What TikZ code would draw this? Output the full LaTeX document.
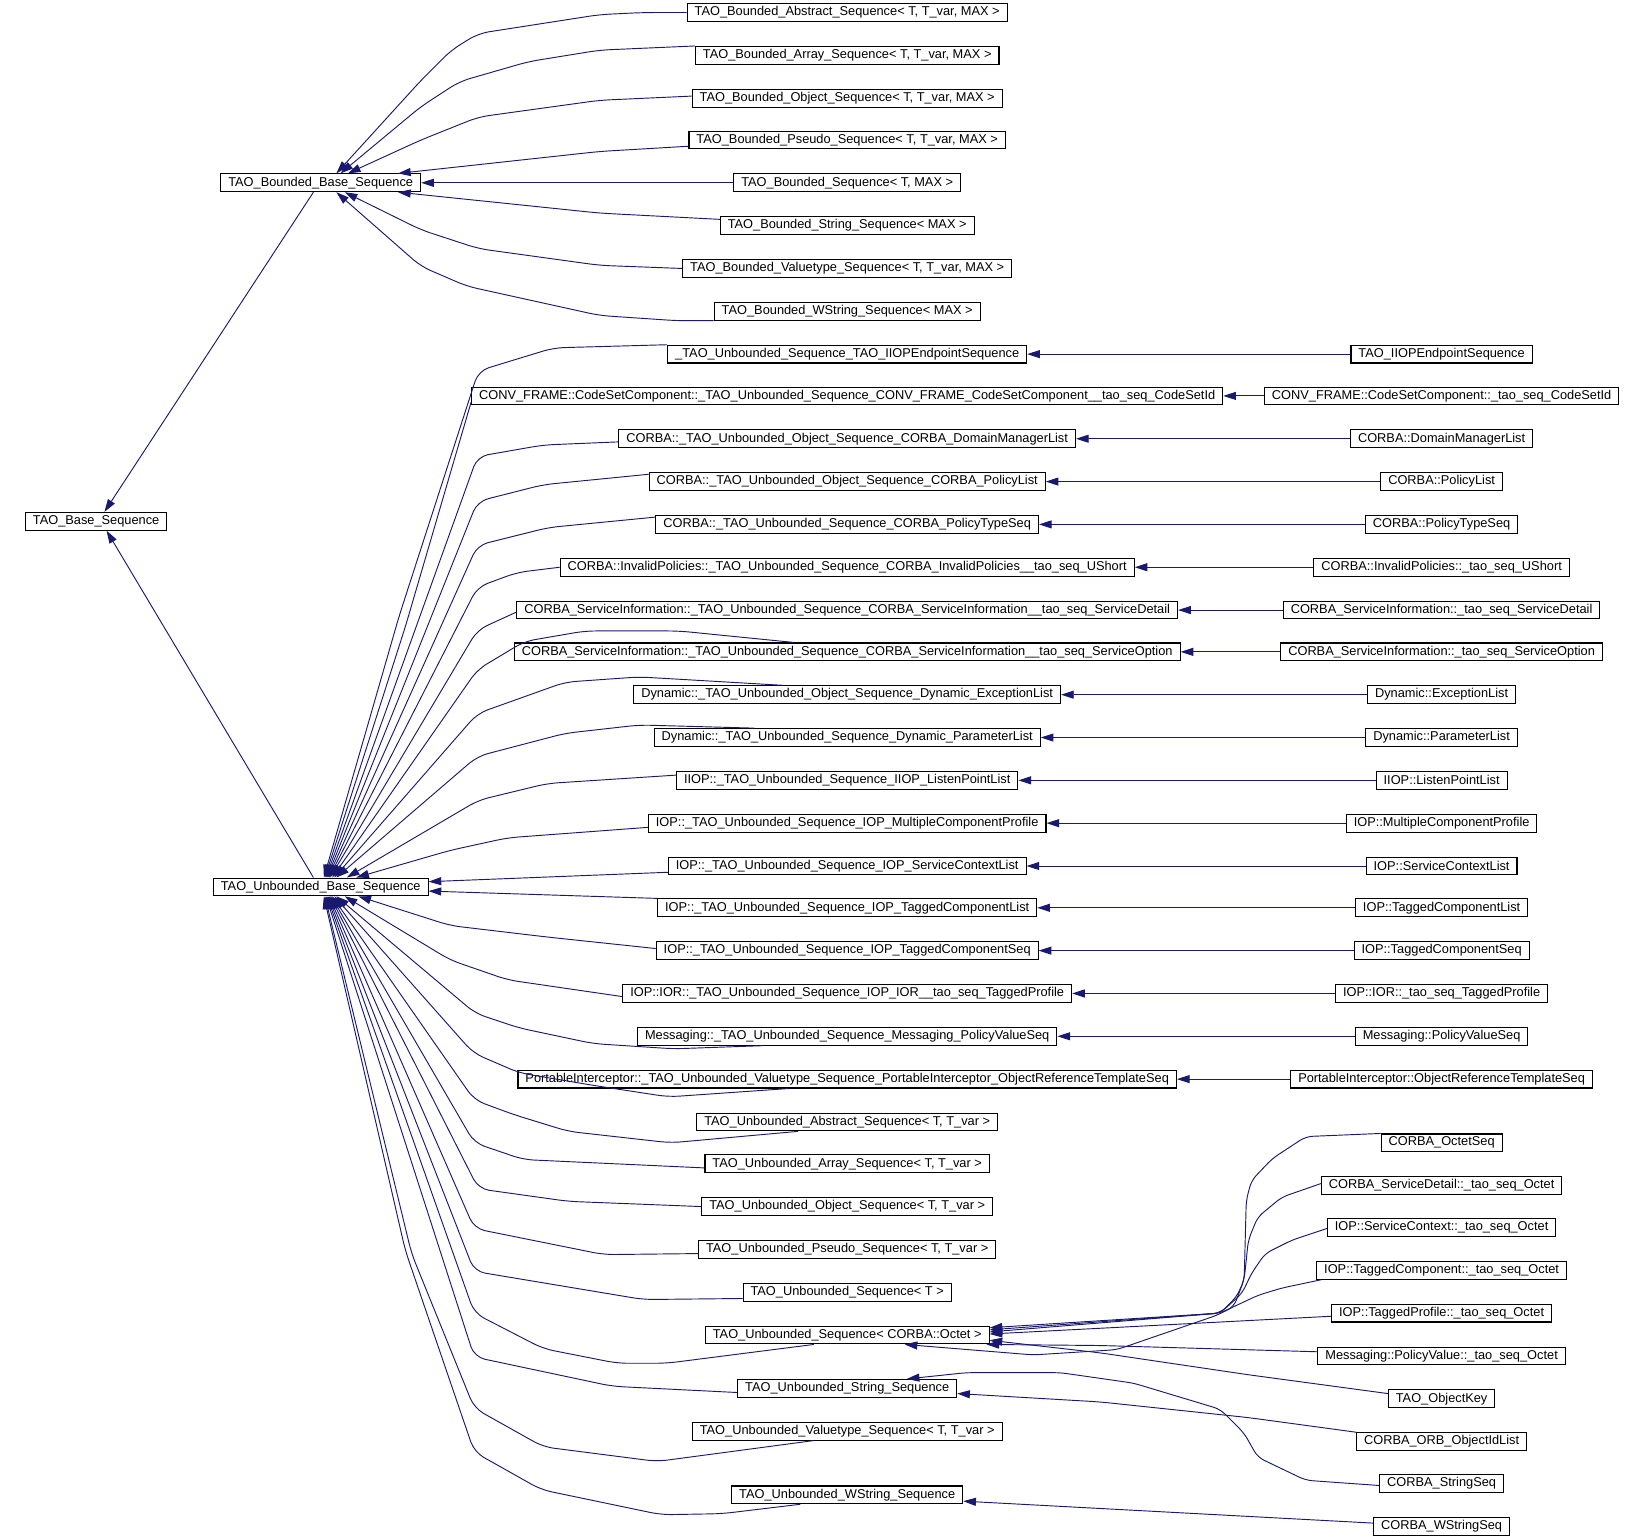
\documentclass[tikz,border=0pt]{standalone}
\usepackage{fontspec}
\setmainfont{Liberation Sans}
\usetikzlibrary{arrows.meta,calc}
\definecolor{edgeblue}{RGB}{25,25,112}
\tikzset{
  cls/.style={draw=black, line width=0.8pt, fill=white, font=\fontsize{9.6}{11}\selectfont,
    inner xsep=5.6pt, inner ysep=0pt, minimum height=13.3pt},
  derive/.style={draw=edgeblue, line width=0.7pt, rounded corners=8pt,
    {Triangle[length=9.5pt,width=6pt]}-}
}
\begin{document}
\begin{tikzpicture}[x=0.7835pt,y=0.7835pt,yscale=-1,xscale=1]
\useasboundingbox (0,0) rectangle (1568,1473);
\fill[white] (0,0) rectangle (1568,1473);

% Bases
\node[cls] (base) at (92,499) {TAO\_Base\_Sequence};
\node[cls] (bbase) at (307,175) {TAO\_Bounded\_Base\_Sequence};
\node[cls] (ubase) at (307,849) {TAO\_Unbounded\_Base\_Sequence};

% Bounded children
\node[cls] (babstract) at (811,12) {TAO\_Bounded\_Abstract\_Sequence< T, T\_var, MAX >};
\node[cls] (barray) at (811,53) {TAO\_Bounded\_Array\_Sequence< T, T\_var, MAX >};
\node[cls] (bobject) at (811,94) {TAO\_Bounded\_Object\_Sequence< T, T\_var, MAX >};
\node[cls] (bpseudo) at (811,134) {TAO\_Bounded\_Pseudo\_Sequence< T, T\_var, MAX >};
\node[cls] (bseq) at (811,175) {TAO\_Bounded\_Sequence< T, MAX >};
\node[cls] (bstring) at (811,216) {TAO\_Bounded\_String\_Sequence< MAX >};
\node[cls] (bvaluetype) at (811,257) {TAO\_Bounded\_Valuetype\_Sequence< T, T\_var, MAX >};
\node[cls] (bwstring) at (811,298) {TAO\_Bounded\_WString\_Sequence< MAX >};

% Unbounded children
\node[cls] (iiop) at (811,339) {\_TAO\_Unbounded\_Sequence\_TAO\_IIOPEndpointSequence};
\node[cls] (conv) at (811,379) {CONV\_FRAME::CodeSetComponent::\_TAO\_Unbounded\_Sequence\_CONV\_FRAME\_CodeSetComponent\_\_tao\_seq\_CodeSetId};
\node[cls] (domain) at (811,420) {CORBA::\_TAO\_Unbounded\_Object\_Sequence\_CORBA\_DomainManagerList};
\node[cls] (policylist) at (811,461) {CORBA::\_TAO\_Unbounded\_Object\_Sequence\_CORBA\_PolicyList};
\node[cls] (policytype) at (811,502) {CORBA::\_TAO\_Unbounded\_Sequence\_CORBA\_PolicyTypeSeq};
\node[cls] (invalid) at (811,543) {CORBA::InvalidPolicies::\_TAO\_Unbounded\_Sequence\_CORBA\_InvalidPolicies\_\_tao\_seq\_UShort};
\node[cls] (svcdetail) at (811,584) {CORBA\_ServiceInformation::\_TAO\_Unbounded\_Sequence\_CORBA\_ServiceInformation\_\_tao\_seq\_ServiceDetail};
\node[cls] (svcoption) at (811,624) {CORBA\_ServiceInformation::\_TAO\_Unbounded\_Sequence\_CORBA\_ServiceInformation\_\_tao\_seq\_ServiceOption};
\node[cls] (exception) at (811,665) {Dynamic::\_TAO\_Unbounded\_Object\_Sequence\_Dynamic\_ExceptionList};
\node[cls] (parameter) at (811,706) {Dynamic::\_TAO\_Unbounded\_Sequence\_Dynamic\_ParameterList};
\node[cls] (listen) at (811,747) {IIOP::\_TAO\_Unbounded\_Sequence\_IIOP\_ListenPointList};
\node[cls] (multiple) at (811,788) {IOP::\_TAO\_Unbounded\_Sequence\_IOP\_MultipleComponentProfile};
\node[cls] (svcctx) at (811,829) {IOP::\_TAO\_Unbounded\_Sequence\_IOP\_ServiceContextList};
\node[cls] (tcl) at (811,869) {IOP::\_TAO\_Unbounded\_Sequence\_IOP\_TaggedComponentList};
\node[cls] (tcs) at (811,910) {IOP::\_TAO\_Unbounded\_Sequence\_IOP\_TaggedComponentSeq};
\node[cls] (tprofile) at (811,951) {IOP::IOR::\_TAO\_Unbounded\_Sequence\_IOP\_IOR\_\_tao\_seq\_TaggedProfile};
\node[cls] (messaging) at (811,992) {Messaging::\_TAO\_Unbounded\_Sequence\_Messaging\_PolicyValueSeq};
\node[cls] (portable) at (811,1033) {PortableInterceptor::\_TAO\_Unbounded\_Valuetype\_Sequence\_PortableInterceptor\_ObjectReferenceTemplateSeq};
\node[cls] (tabstract) at (811,1074) {TAO\_Unbounded\_Abstract\_Sequence< T, T\_var >};
\node[cls] (tarray) at (811,1114) {TAO\_Unbounded\_Array\_Sequence< T, T\_var >};
\node[cls] (tobject) at (811,1155) {TAO\_Unbounded\_Object\_Sequence< T, T\_var >};
\node[cls] (tpseudo) at (811,1196) {TAO\_Unbounded\_Pseudo\_Sequence< T, T\_var >};
\node[cls] (tseq) at (811,1237) {TAO\_Unbounded\_Sequence< T >};
\node[cls] (toctet) at (811,1278) {TAO\_Unbounded\_Sequence< CORBA::Octet >};
\node[cls] (tstring) at (811,1329) {TAO\_Unbounded\_String\_Sequence};
\node[cls] (tvaluetype) at (811,1370) {TAO\_Unbounded\_Valuetype\_Sequence< T, T\_var >};
\node[cls] (twstring) at (811,1431) {TAO\_Unbounded\_WString\_Sequence};

% Leaf classes
\node[cls] (iiopseq) at (1380,339) {TAO\_IIOPEndpointSequence};
\node[cls] (codesetid) at (1380,379) {CONV\_FRAME::CodeSetComponent::\_tao\_seq\_CodeSetId};
\node[cls] (domainlist) at (1380,420) {CORBA::DomainManagerList};
\node[cls] (policies) at (1380,461) {CORBA::PolicyList};
\node[cls] (policytypes) at (1380,502) {CORBA::PolicyTypeSeq};
\node[cls] (ushort) at (1380,543) {CORBA::InvalidPolicies::\_tao\_seq\_UShort};
\node[cls] (sdetail) at (1380,584) {CORBA\_ServiceInformation::\_tao\_seq\_ServiceDetail};
\node[cls] (soption) at (1380,624) {CORBA\_ServiceInformation::\_tao\_seq\_ServiceOption};
\node[cls] (exceptions) at (1380,665) {Dynamic::ExceptionList};
\node[cls] (parameters) at (1380,706) {Dynamic::ParameterList};
\node[cls] (listenpoints) at (1380,747) {IIOP::ListenPointList};
\node[cls] (profiles) at (1380,788) {IOP::MultipleComponentProfile};
\node[cls] (contexts) at (1380,829) {IOP::ServiceContextList};
\node[cls] (componentlist) at (1380,869) {IOP::TaggedComponentList};
\node[cls] (componentseq) at (1380,910) {IOP::TaggedComponentSeq};
\node[cls] (taggedprofile) at (1380,951) {IOP::IOR::\_tao\_seq\_TaggedProfile};
\node[cls] (policyvalues) at (1380,992) {Messaging::PolicyValueSeq};
\node[cls] (templates) at (1380,1033) {PortableInterceptor::ObjectReferenceTemplateSeq};
\node[cls] (octetseq) at (1380,1094) {CORBA\_OctetSeq};
\node[cls] (sdoctet) at (1380,1135) {CORBA\_ServiceDetail::\_tao\_seq\_Octet};
\node[cls] (scoctet) at (1380,1175) {IOP::ServiceContext::\_tao\_seq\_Octet};
\node[cls] (tcoctet) at (1380,1216) {IOP::TaggedComponent::\_tao\_seq\_Octet};
\node[cls] (tpoctet) at (1380,1257) {IOP::TaggedProfile::\_tao\_seq\_Octet};
\node[cls] (pvoctet) at (1380,1298) {Messaging::PolicyValue::\_tao\_seq\_Octet};
\node[cls] (objkey) at (1380,1339) {TAO\_ObjectKey};
\node[cls] (orbids) at (1380,1380) {CORBA\_ORB\_ObjectIdList};
\node[cls] (stringseq) at (1380,1420) {CORBA\_StringSeq};
\node[cls] (wstringseq) at (1380,1461) {CORBA\_WStringSeq};

% Edges to TAO_Base_Sequence
\draw[derive] ($(base.north)+(8,0)$) -- ($(bbase.south)+(-7,0)$);
\draw[derive] ($(base.south)+(10,0)$) -- ($(ubase.north)+(-7,0)$);

% Edges to TAO_Bounded_Base_Sequence
\draw[derive] ($(bbase.north)+(15,0)$) -- (403,77) -- (432,48) -- (458,32) -- (574,14) -- (616,12) -- (babstract.west);
\draw[derive] ($(bbase.north)+(19,0)$) -- (403,102) -- (440,78) -- (506,59) -- (574,48) -- (barray.north west);
\draw[derive] ($(bbase.north)+(26,0)$) -- (403,134) -- (458,112) -- (574,96) -- ($(bobject.west)+(0,-2)$);
\draw[derive] ($(bbase.north)+(74,0)$) -- (574,145) -- ($(bpseudo.west)+(0,6)$);
\draw[derive] (bbase.east) -- (bseq.west);
\draw[derive] ($(bbase.south)+(74,0)$) -- (574,204) -- ($(bstring.west)+(0,-6)$);
\draw[derive] ($(bbase.south)+(23,0)$) -- (403,220) -- (458,238) -- (574,254) -- (bvaluetype.west);
\draw[derive] ($(bbase.south)+(15,0)$) -- (403,255) -- (447,274) -- (574,302) -- (648,307) -- (bwstring.south west);

% Edges to TAO_Unbounded_Base_Sequence, upper side
\draw[derive] ($(ubase.north)+(3,0)$) -- (382,590) -- (458,355) -- (530,333) -- (iiop.north west);
\draw[derive] ($(ubase.north)+(4,0)$) -- (388,600) -- ($(conv.south west)+(0,-3)$);
\draw[derive] ($(ubase.north)+(5,0)$) -- (457,437) -- (520,426) -- ($(domain.west)+(0,3)$);
\draw[derive] ($(ubase.north)+(6,0)$) -- (457,480) -- (520,464) -- ($(policylist.west)+(0,-7)$);
\draw[derive] ($(ubase.north)+(7,0)$) -- (457,522) -- (525,505) -- ($(policytype.west)+(0,-7)$);
\draw[derive] ($(ubase.north)+(8,0)$) -- (457,562) -- (495,548) -- (invalid.west);
\draw[derive] ($(ubase.north)+(9,0)$) -- (457,603) -- ($(svcdetail.west)+(0,2)$);
\draw[derive] ($(ubase.north)+(11,0)$) -- (457,641) -- (502,614) -- (560,604) -- (650,604) -- ($(svcoption.north)+(-51,0)$);
\draw[derive] ($(ubase.north)+(13,0)$) -- (457,683) -- (541,653) -- (612,648) -- ($(exception.north)+(-62,0)$);
\draw[derive] ($(ubase.north)+(15,0)$) -- (457,724) -- (541,702) -- (612,694) -- ($(parameter.north)+(-89,0)$);
\draw[derive] ($(ubase.north)+(25,0)$) -- (458,766) -- (524,750) -- ($(listen.west)+(0,-5)$);
\draw[derive] ($(ubase.north)+(34,0)$) -- (431,814) -- (486,802) -- ($(multiple.west)+(0,4)$);
\draw[derive] ($(ubase.east)+(0,-5)$) -- ($(svcctx.west)+(0,6)$);
\draw[derive] ($(ubase.east)+(0,4)$) -- (tcl.north west);

% Edges to TAO_Unbounded_Base_Sequence, lower side
\draw[derive] ($(ubase.south)+(36,0)$) -- (431,886) -- (524,897) -- ($(tcs.west)+(0,-2)$);
\draw[derive] ($(ubase.south)+(23,0)$) -- (431,919) -- (486,938) -- ($(tprofile.west)+(0,3)$);
\draw[derive] ($(ubase.south)+(15,0)$) -- (455,970) -- (497,984) -- (568,999) -- (645,1004) -- ($(messaging.south)+(-81,0)$);
\draw[derive] ($(ubase.south)+(13,0)$) -- (453,1008) -- (497,1027) -- (568,1039) -- (640,1050) -- ($(portable.south)+(-56,0)$);
\draw[derive] ($(ubase.south)+(11,0)$) -- (454,1053) -- (492,1067) -- (544,1083) -- (642,1094) -- ($(tabstract.south)+(-47,0)$);
\draw[derive] ($(ubase.south)+(10,0)$) -- (454,1094) -- (501,1110) -- ($(tarray.west)+(0,4)$);
\draw[derive] ($(ubase.south)+(9,0)$) -- (458,1138) -- (544,1150) -- (tobject.west);
\draw[derive] ($(ubase.south)+(8,0)$) -- (454,1176) -- (578,1201) -- ($(tpseudo.west)+(0,4)$);
\draw[derive] ($(ubase.south)+(7,0)$) -- (454,1217) -- (616,1244) -- ($(tseq.west)+(0,6)$);
\draw[derive] ($(ubase.south)+(6,0)$) -- (454,1257) -- (520,1291) -- (591,1305) -- (638,1305) -- ($(toctet.south)+(-32,0)$);
\draw[derive] ($(ubase.south)+(5,0)$) -- (454,1299) -- (586,1327) -- ($(tstring.west)+(0,4)$);
\draw[derive] ($(ubase.south)+(4,0)$) -- (394,1200) -- (454,1348) -- (520,1385) -- (629,1399) -- ($(tvaluetype.south)+(-32,0)$);
\draw[derive] ($(ubase.south)+(3,0)$) -- (388,1197) -- (454,1390) -- (518,1426) -- (633,1450) -- (691,1449) -- ($(twstring.south)+(-45,0)$);

% Leaf classes to their sequence bases
\draw[derive] (iiop.east) -- (iiopseq.west);
\draw[derive] (conv.east) -- (codesetid.west);
\draw[derive] (domain.east) -- (domainlist.west);
\draw[derive] (policylist.east) -- (policies.west);
\draw[derive] (policytype.east) -- (policytypes.west);
\draw[derive] (invalid.east) -- (ushort.west);
\draw[derive] (svcdetail.east) -- (sdetail.west);
\draw[derive] (svcoption.east) -- (soption.west);
\draw[derive] (exception.east) -- (exceptions.west);
\draw[derive] (parameter.east) -- (parameters.west);
\draw[derive] (listen.east) -- (listenpoints.west);
\draw[derive] (multiple.east) -- (profiles.west);
\draw[derive] (svcctx.east) -- (contexts.west);
\draw[derive] (tcl.east) -- (componentlist.west);
\draw[derive] (tcs.east) -- (componentseq.west);
\draw[derive] (tprofile.east) -- (taggedprofile.west);
\draw[derive] (messaging.east) -- (policyvalues.west);
\draw[derive] (portable.east) -- (templates.west);

% Octet sequences
\draw[derive,rounded corners=5pt] ($(toctet.south)+(55,0)$) -- (989,1297) -- (1069,1292) -- (1165,1259) -- (1181,1251) -- (1191,1225) -- (1193,1149) -- (1198,1130) -- (1218,1109) -- (1250,1088) -- (octetseq.north west);
\draw[derive,rounded corners=5pt] ($(toctet.east)+(0,-7)$) -- (1168,1257) -- (1184,1241) -- (1191,1225) -- (1195,1187) -- (1204,1165) -- (1227,1146) -- ($(sdoctet.west)+(0,-2)$);
\draw[derive,rounded corners=5pt] ($(toctet.east)+(0,-5)$) -- (1168,1257) -- (1189,1238) -- (1198,1219) -- (1211,1200) -- (1237,1187) -- ($(scoctet.west)+(0,1)$);
\draw[derive,rounded corners=5pt] ($(toctet.east)+(0,-3)$) -- (1168,1257) -- (1204,1240) -- (1227,1233) -- ($(tcoctet.south west)+(5,0)$);
\draw[derive] ($(toctet.east)+(0,-1)$) -- ($(tpoctet.west)+(0,3)$);
\draw[derive] ($(toctet.south east)+(-3,0)$) -- (1053,1288) -- ($(pvoctet.west)+(0,-4)$);
\draw[derive] ($(toctet.east)+(0,5)$) -- (1053,1295) -- (1195,1316) -- ($(objkey.west)+(0,-5)$);

% String sequences
\draw[derive,rounded corners=5pt] ($(tstring.north)+(57,0)$) -- (925,1314) -- (1015,1314) -- (1085,1324) -- (1168,1349) -- (1191,1372) -- (1204,1395) -- (1250,1417) -- ($(stringseq.west)+(0,2)$);
\draw[derive] ($(tstring.east)+(0,5)$) -- (1053,1342) -- (1195,1357) -- (orbids.north west);
\draw[derive] ($(twstring.east)+(0,6)$) -- (1053,1444) -- ($(wstringseq.west)+(0,-3)$);
\end{tikzpicture}
\end{document}
